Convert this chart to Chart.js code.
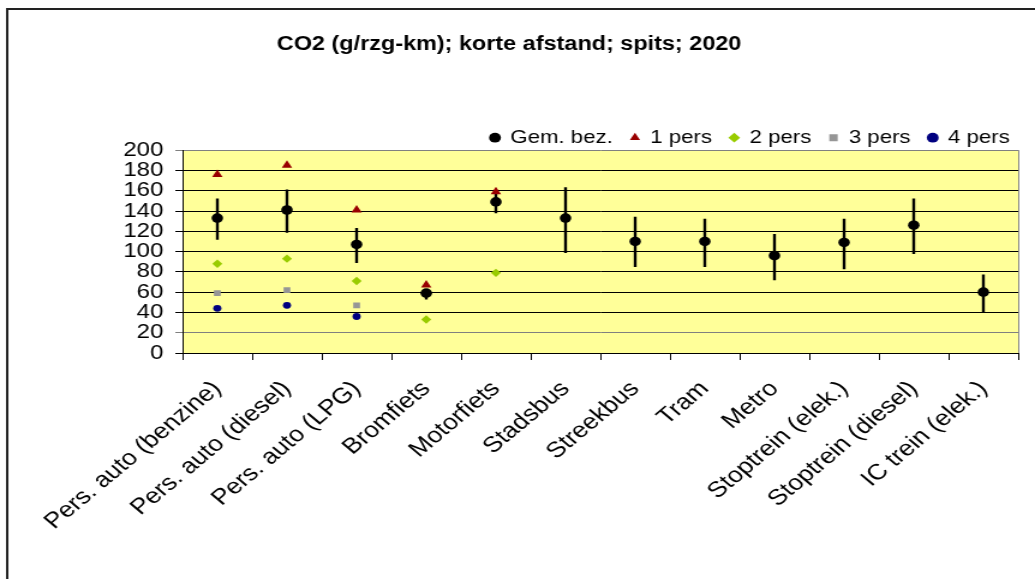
<!DOCTYPE html>
<html>
<head>
<meta charset="utf-8">
<script src="https://cdn.jsdelivr.net/npm/chart.js@4/dist/chart.umd.min.js"></script>
<style>
  html, body { margin: 0; padding: 0; background: #fff; overflow: hidden; }
  /* the reference is a horizontally stretched Excel chart, so draw narrow and stretch */
  #wrap { width: 862px; height: 579px; transform: scaleX(1.2007); transform-origin: 0 0; }
</style>
</head>
<body>
<div id="wrap"><canvas id="co2Chart"></canvas></div>
<script>
const categories = ['Pers. auto (benzine)', 'Pers. auto (diesel)', 'Pers. auto (LPG)', 'Bromfiets',
    'Motorfiets', 'Stadsbus', 'Streekbus', 'Tram', 'Metro', 'Stoptrein (elek.)',
    'Stoptrein (diesel)', 'IC trein (elek.)'];
const gemBez = [133, 141, 107, 59, 149, 133, 110, 110, 96, 109, 126, 60];
const errLow = [112, 119, 89, 53, 138, 99, 85, 85, 72, 83, 98, 40];
const errHigh = [152, 161, 123, 62, 160, 163, 134, 132, 117, 132, 152, 77];
const pers1 = [176, 185, 141, 67, 159, null, null, null, null, null, null, null];
const pers2 = [88, 93, 71, 33, 79, null, null, null, null, null, null, null];
const pers3 = [59, 62, 47, null, null, null, null, null, null, null, null, null];
const pers4 = [44, 47, 36, null, null, null, null, null, null, null, null, null];
const yTicks = [0, 20, 40, 60, 80, 100, 120, 140, 160, 180, 200];

Chart.defaults.font.family = '"Liberation Sans", Arial, sans-serif';
Chart.defaults.color = '#000';

// frame, yellow plot area and its grey right border
const backdrop = {
    id: 'backdrop',
    beforeDraw(chart) {
        const {ctx, chartArea: a} = chart;
        ctx.save();
        ctx.strokeStyle = '#222';
        ctx.lineWidth = 2;
        ctx.beginPath();
        ctx.moveTo(6, chart.height);
        ctx.lineTo(6, 9);
        ctx.lineTo(chart.width, 9);
        ctx.stroke();
        ctx.fillStyle = '#FFFF99';
        ctx.fillRect(a.left, a.top, a.right - a.left, a.bottom - a.top);
        ctx.strokeStyle = '#888';
        ctx.lineWidth = 1;
        ctx.beginPath();
        ctx.moveTo(a.right + 0.5, a.top);
        ctx.lineTo(a.right + 0.5, a.bottom);
        ctx.stroke();
        ctx.restore();
    }
};

// the legend sits tight on the plot area, trim the extra space chart.js adds below it
const legendTrim = {
    id: 'legendTrim',
    beforeLayout(chart) {
        const lg = chart.legend;
        if (lg && !lg._trimmed) {
            const fit = lg.fit.bind(lg);
            lg.fit = function () { fit(); this.height -= 6.75; };
            lg._trimmed = true;
        }
    },
    afterLayout(chart) {
        // push the items a bit further right, over the trailing padding
        chart.legend.left += 8;
        chart.legend.right += 8;
    }
};

function pointSeries(label, data, style, radius, color) {
    return {
        type: 'line',
        label: label,
        data: data,
        showLine: false,
        pointStyle: style,
        pointRadius: radius,
        backgroundColor: color,
        borderColor: color,
        borderWidth: 0,
        order: 1
    };
}

new Chart(document.getElementById('co2Chart'), {
    type: 'bar',
    data: {
        labels: categories,
        datasets: [
            pointSeries('Gem. bez.', gemBez, 'circle', 4.8, '#000'),
            pointSeries('1 pers', pers1, 'triangle', 5, '#990000'),
            pointSeries('2 pers', pers2, 'rectRot', 4.2, '#99CC00'),
            pointSeries('3 pers', pers3, 'rect', 4, '#969696'),
            pointSeries('4 pers', pers4, 'circle', 3.4, '#000080'),
            {
                label: 'spreiding',
                data: errLow.map((lo, i) => [lo, errHigh[i]]),
                backgroundColor: '#000',
                barThickness: 1.7,
                order: 2
            }
        ]
    },
    options: {
        responsive: true,
        maintainAspectRatio: false,
        animation: false,
        layout: { padding: { left: 0, right: 14, top: 0, bottom: 0 } },
        plugins: {
            title: {
                display: true,
                text: 'CO2 (g/rzg-km); korte afstand; spits; 2020',
                font: { size: 19.5, weight: 'bold' },
                color: '#000',
                padding: { top: 33, bottom: 57 }
            },
            legend: {
                position: 'top',
                align: 'end',
                labels: {
                    usePointStyle: true,
                    boxWidth: 7,
                    boxHeight: 7,
                    padding: 15,
                    font: { size: 18.5 },
                    color: '#000',
                    filter: item => item.text !== 'spreiding'
                }
            },
            tooltip: { enabled: false }
        },
        scales: {
            x: {
                grid: { offset: true, drawOnChartArea: false, color: '#000', tickLength: 7 },
                border: { color: '#000', width: 1 },
                ticks: { font: { size: 22 }, color: '#000', minRotation: 45, maxRotation: 45, autoSkip: false, padding: 16 },
                afterFit: scale => { scale.height = 226; }
            },
            y: {
                min: 0,
                max: 200,
                afterBuildTicks: scale => { scale.ticks = yTicks.map(v => ({value: v})); },
                grid: {
                    color: ctx => (ctx.tick && (ctx.tick.value === 20 || ctx.tick.value === 200)) ? '#808080' : '#000',
                    lineWidth: 1,
                    tickLength: 6
                },
                border: { color: '#000', width: 1 },
                ticks: { font: { size: 20 }, color: '#000', padding: 10, autoSkip: false },
                afterFit: scale => { scale.width = 152; }
            }
        }
    },
    plugins: [backdrop, legendTrim]
});
</script>
</body>
</html>
